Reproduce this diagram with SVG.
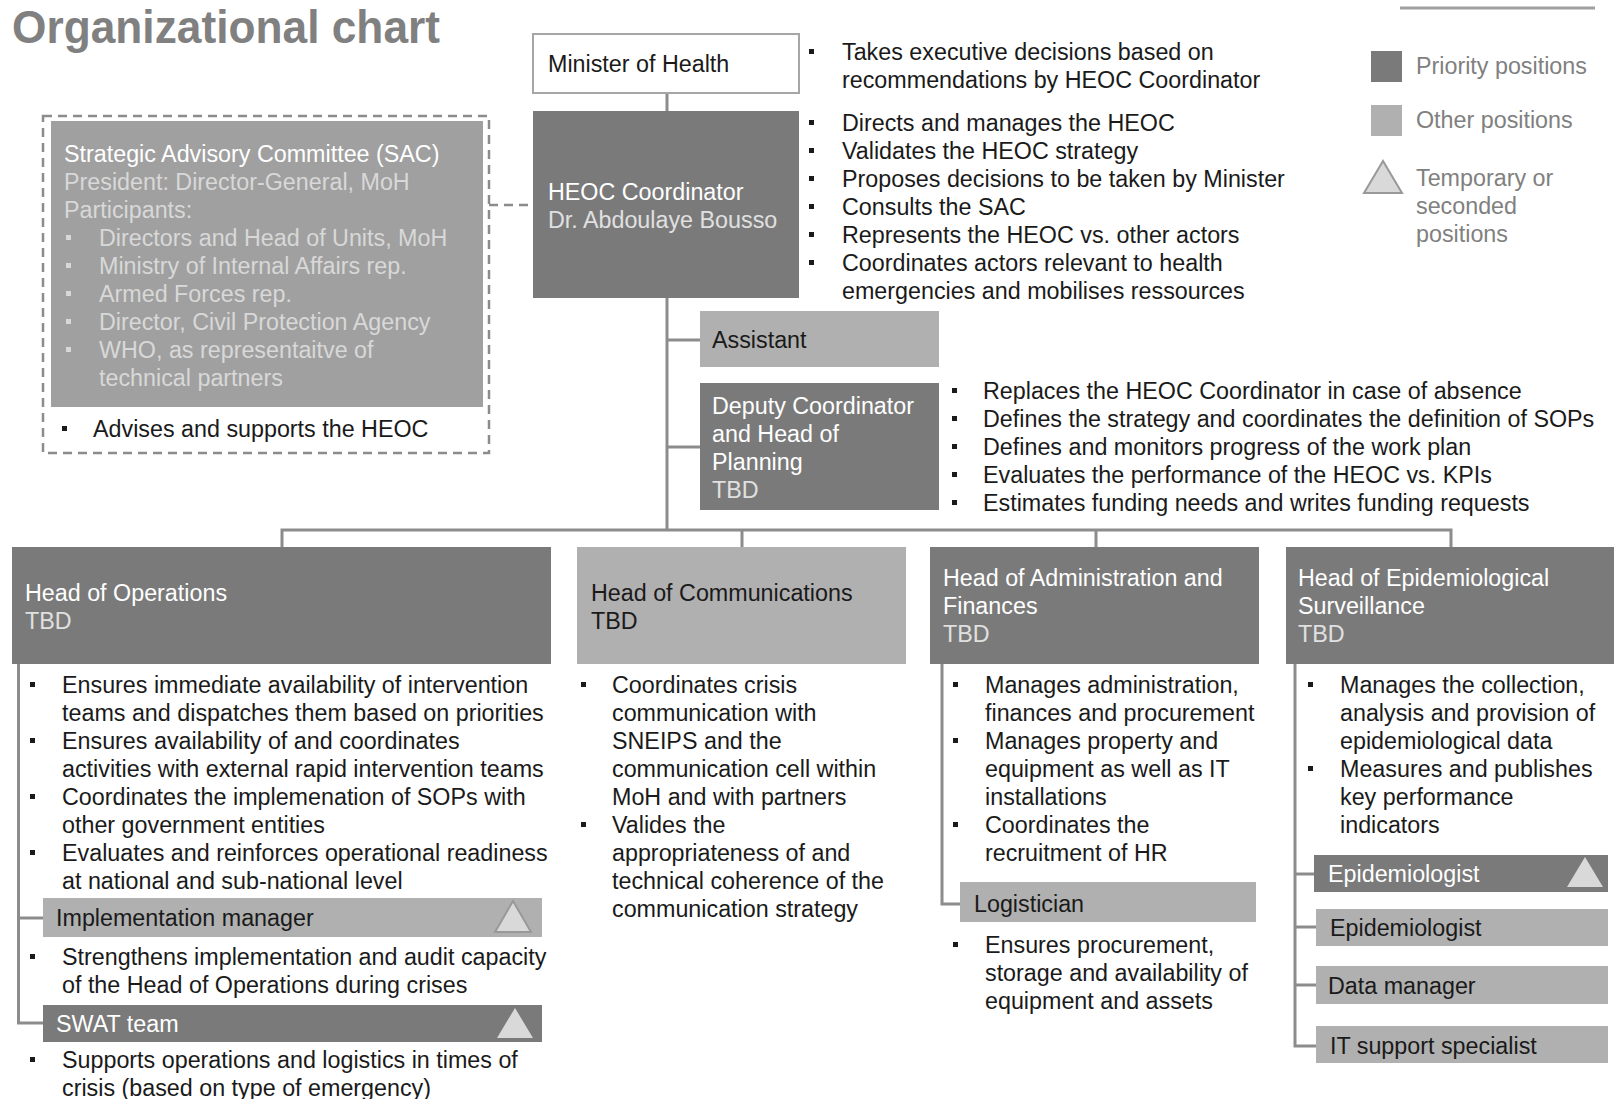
<svg xmlns="http://www.w3.org/2000/svg" width="1614" height="1099" viewBox="0 0 1614 1099">
<style>
text{font-family:"Liberation Sans",Arial,sans-serif;font-size:23.3px;fill:#1a1a1a}
.dark{fill:#7a7a7a}
.light{fill:#b0b0b0}
.sac{fill:#a0a0a0}
.w{fill:#ffffff}
.wg{fill:#e0e0e0}
.sg{fill:#d8d8d8}
.lg{fill:#808080}
.ln{stroke:#8c8c8c;stroke-width:3;fill:none}
.dash{stroke:#8c8c8c;stroke-width:2.5;fill:none;stroke-dasharray:9 6}
.tri{fill:#d9d9d9}
.trio{fill:#d9d9d9;stroke:#999999;stroke-width:2}
</style>
<defs>
<rect id="bul" x="0" y="-11" width="5" height="5" fill="#1a1a1a"/>
<rect id="bulw" x="0" y="-11" width="5" height="5" fill="#d8d8d8"/>
</defs>

<text x="12" y="43" textLength="428" lengthAdjust="spacingAndGlyphs" style="font-size:47px;font-weight:bold;fill:#808080">Organizational chart</text>
<line x1="1400" y1="8" x2="1595" y2="8" stroke="#a0a0a0" stroke-width="3"/>

<g id="connectors">
<line class="ln" x1="667" y1="93" x2="667" y2="111"/>
<line class="dash" x1="489" y1="205" x2="533" y2="205"/>
<polyline class="ln" points="667,298 667,530"/>
<line class="ln" x1="667" y1="340" x2="700" y2="340"/>
<line class="ln" x1="667" y1="447" x2="700" y2="447"/>
<polyline class="ln" points="282,547 282,530 1451,530 1451,547"/>
<line class="ln" x1="742" y1="530" x2="742" y2="547"/>
<line class="ln" x1="1096" y1="530" x2="1096" y2="547"/>
<polyline class="ln" points="18.5,664 18.5,1023 43,1023"/>
<line class="ln" x1="18.5" y1="918" x2="43" y2="918"/>
<polyline class="ln" points="942,664 942,904 960,904"/>
<polyline class="ln" points="1295,664 1295,1046 1316,1046"/>
<line class="ln" x1="1295" y1="874" x2="1314" y2="874"/>
<line class="ln" x1="1295" y1="927" x2="1316" y2="927"/>
<line class="ln" x1="1295" y1="985" x2="1316" y2="985"/>
</g>

<g id="minister">
<rect x="533" y="34" width="266" height="59" fill="#ffffff" stroke="#a6a6a6" stroke-width="2"/>
<text x="548" y="72">Minister of Health</text>
<use href="#bul" x="809" y="60"/><text x="842" y="60">Takes executive decisions based on</text>
<text x="842" y="88">recommendations by HEOC Coordinator</text>
</g>

<g id="heoc">
<rect class="dark" x="533" y="111" width="266" height="187"/>
<text class="w" x="548" y="200">HEOC Coordinator</text>
<text class="wg" x="548" y="228">Dr. Abdoulaye Bousso</text>
<use href="#bul" x="809" y="131"/><text x="842" y="131">Directs and manages the HEOC</text>
<use href="#bul" x="809" y="159"/><text x="842" y="159">Validates the HEOC strategy</text>
<use href="#bul" x="809" y="187"/><text x="842" y="187">Proposes decisions to be taken by Minister</text>
<use href="#bul" x="809" y="215"/><text x="842" y="215">Consults the SAC</text>
<use href="#bul" x="809" y="243"/><text x="842" y="243">Represents the HEOC vs. other actors</text>
<use href="#bul" x="809" y="271"/><text x="842" y="271">Coordinates actors relevant to health</text>
<text x="842" y="299">emergencies and mobilises ressources</text>
</g>

<g id="sac">
<rect class="dash" x="43" y="116" width="446" height="337"/>
<rect class="sac" x="51" y="121" width="432" height="286"/>
<text class="w" x="64" y="162">Strategic Advisory Committee (SAC)</text>
<text class="sg" x="64" y="190">President: Director-General, MoH</text>
<text class="sg" x="64" y="218">Participants:</text>
<use href="#bulw" x="66" y="246"/><text class="sg" x="99" y="246">Directors and Head of Units, MoH</text>
<use href="#bulw" x="66" y="274"/><text class="sg" x="99" y="274">Ministry of Internal Affairs rep.</text>
<use href="#bulw" x="66" y="302"/><text class="sg" x="99" y="302">Armed  Forces rep.</text>
<use href="#bulw" x="66" y="330"/><text class="sg" x="99" y="330">Director, Civil Protection Agency</text>
<use href="#bulw" x="66" y="358"/><text class="sg" x="99" y="358">WHO, as representaitve of</text>
<text class="sg" x="99" y="386">technical partners</text>
<use href="#bul" x="62" y="437"/><text x="93" y="437">Advises and supports the HEOC</text>
</g>

<g id="assistant">
<rect class="light" x="700" y="311" width="239" height="56"/>
<text x="712" y="348">Assistant</text>
</g>

<g id="deputy">
<rect class="dark" x="700" y="383" width="239" height="127"/>
<text class="w" x="712" y="414">Deputy Coordinator</text>
<text class="w" x="712" y="442">and Head of</text>
<text class="w" x="712" y="470">Planning</text>
<text class="wg" x="712" y="498">TBD</text>
<use href="#bul" x="952" y="399"/><text x="983" y="399">Replaces the HEOC Coordinator in case of absence</text>
<use href="#bul" x="952" y="427"/><text x="983" y="427">Defines the strategy and coordinates the definition of SOPs</text>
<use href="#bul" x="952" y="455"/><text x="983" y="455">Defines and monitors progress of the work plan</text>
<use href="#bul" x="952" y="483"/><text x="983" y="483">Evaluates the performance of the HEOC vs. KPIs</text>
<use href="#bul" x="952" y="511"/><text x="983" y="511">Estimates funding needs and writes funding requests</text>
</g>

<g id="legend">
<rect class="dark" x="1371" y="51" width="31" height="31"/>
<text class="lg" x="1416" y="74">Priority positions</text>
<rect class="light" x="1371" y="105" width="31" height="31"/>
<text class="lg" x="1416" y="128">Other positions</text>
<polygon class="trio" points="1383,161 1364,193 1402,193"/>
<text class="lg" x="1416" y="186">Temporary or</text>
<text class="lg" x="1416" y="214">seconded</text>
<text class="lg" x="1416" y="242">positions</text>
</g>

<g id="operations">
<rect class="dark" x="12" y="547" width="539" height="117"/>
<text class="w" x="25" y="601">Head of Operations</text>
<text class="wg" x="25" y="629">TBD</text>
<use href="#bul" x="30" y="693"/><text x="62" y="693">Ensures immediate availability of intervention</text>
<text x="62" y="721">teams and dispatches them based on priorities</text>
<use href="#bul" x="30" y="749"/><text x="62" y="749">Ensures availability of  and coordinates</text>
<text x="62" y="777">activities with external rapid intervention teams</text>
<use href="#bul" x="30" y="805"/><text x="62" y="805">Coordinates the implemenation of SOPs with</text>
<text x="62" y="833">other government entities</text>
<use href="#bul" x="30" y="861"/><text x="62" y="861">Evaluates and reinforces operational readiness</text>
<text x="62" y="889">at national and sub-national level</text>
</g>

<g id="implementation-manager">
<rect class="light" x="43" y="898" width="499" height="39"/>
<text x="56" y="926">Implementation manager</text>
<polygon class="trio" points="513,901 495,932 531,932"/>
<use href="#bul" x="30" y="965"/><text x="62" y="965">Strengthens implementation and audit capacity</text>
<text x="62" y="993">of the Head of Operations during crises</text>
</g>

<g id="swat">
<rect class="dark" x="43" y="1005" width="499" height="37"/>
<text class="w" x="56" y="1032">SWAT team</text>
<polygon class="tri" points="515,1008 497,1038 533,1038"/>
<use href="#bul" x="30" y="1068"/><text x="62" y="1068">Supports operations and logistics in times of</text>
<text x="62" y="1096">crisis (based on type of emergency)</text>
</g>

<g id="communications">
<rect class="light" x="577" y="547" width="329" height="117"/>
<text x="591" y="601">Head of Communications</text>
<text x="591" y="629">TBD</text>
<use href="#bul" x="581" y="693"/><text x="612" y="693">Coordinates crisis</text>
<text x="612" y="721">communication with</text>
<text x="612" y="749">SNEIPS and the</text>
<text x="612" y="777">communication cell within</text>
<text x="612" y="805">MoH and with partners</text>
<use href="#bul" x="581" y="833"/><text x="612" y="833">Valides the</text>
<text x="612" y="861">appropriateness of and</text>
<text x="612" y="889">technical coherence of the</text>
<text x="612" y="917">communication strategy</text>
</g>

<g id="administration">
<rect class="dark" x="930" y="547" width="329" height="117"/>
<text class="w" x="943" y="586">Head of Administration and</text>
<text class="w" x="943" y="614">Finances</text>
<text class="wg" x="943" y="642">TBD</text>
<use href="#bul" x="953" y="693"/><text x="985" y="693">Manages administration,</text>
<text x="985" y="721">finances and procurement</text>
<use href="#bul" x="953" y="749"/><text x="985" y="749">Manages property and</text>
<text x="985" y="777">equipment as well as IT</text>
<text x="985" y="805">installations</text>
<use href="#bul" x="953" y="833"/><text x="985" y="833">Coordinates the</text>
<text x="985" y="861">recruitment of HR</text>
</g>

<g id="logistician">
<rect class="light" x="960" y="882" width="296" height="40"/>
<text x="974" y="912">Logistician</text>
<use href="#bul" x="953" y="953"/><text x="985" y="953">Ensures procurement,</text>
<text x="985" y="981">storage and availability of</text>
<text x="985" y="1009">equipment and assets</text>
</g>

<g id="epidemiology">
<rect class="dark" x="1286" y="547" width="328" height="117"/>
<text class="w" x="1298" y="586">Head of Epidemiological</text>
<text class="w" x="1298" y="614">Surveillance</text>
<text class="wg" x="1298" y="642">TBD</text>
<use href="#bul" x="1308" y="693"/><text x="1340" y="693">Manages the collection,</text>
<text x="1340" y="721">analysis and provision of</text>
<text x="1340" y="749">epidemiological data</text>
<use href="#bul" x="1308" y="777"/><text x="1340" y="777">Measures and publishes</text>
<text x="1340" y="805">key performance</text>
<text x="1340" y="833">indicators</text>
</g>

<g id="epidemiologist-1">
<rect class="dark" x="1314" y="855" width="294" height="37"/>
<text class="w" x="1328" y="882">Epidemiologist</text>
<polygon class="tri" points="1585,857 1567,887 1603,887"/>
</g>
<g id="epidemiologist-2">
<rect class="light" x="1316" y="909" width="292" height="37"/>
<text x="1330" y="936">Epidemiologist</text>
</g>
<g id="data-manager">
<rect class="light" x="1316" y="966" width="292" height="38"/>
<text x="1328" y="994">Data manager</text>
</g>
<g id="it-support">
<rect class="light" x="1316" y="1026" width="292" height="37"/>
<text x="1330" y="1054">IT support specialist</text>
</g>
</svg>
